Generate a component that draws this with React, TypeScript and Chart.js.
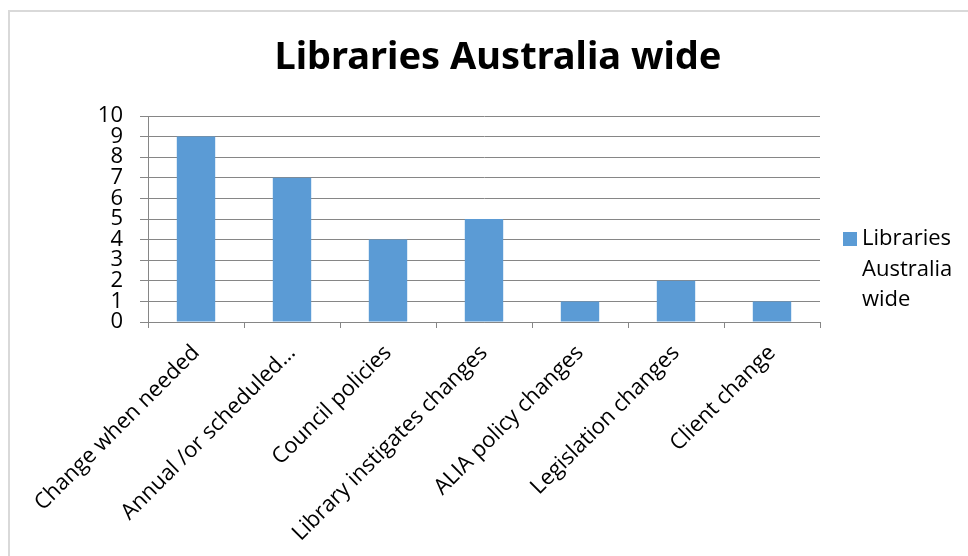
import React, { useEffect, useRef } from "react";
import { Chart, registerables } from "chart.js";

Chart.register(...registerables);

const chartTitle = "Libraries Australia wide";
const categories = [
  "Change when needed",
  "Annual /or scheduled…",
  "Council policies",
  "Library instigates changes",
  "ALIA policy changes",
  "Legislation changes",
  "Client change",
];
const values = [9, 7, 4, 5, 1, 2, 1];
const seriesName = "Libraries Australia wide";
const legendLines = ["Libraries", "Australia", "wide"];
const yMin = 0;
const yMax = 10;
const yStep = 1;

const BAR = "#5B9BD5";
const GRID = "#868686";
const FONT = "'Open Sans', 'Noto Sans', sans-serif";

const decorPlugin = {
  id: "decor",
  beforeDraw(chart: any) {
    const ctx = chart.ctx;
    ctx.save();
    ctx.fillStyle = "#ffffff";
    ctx.fillRect(0, 0, chart.width, chart.height);
    ctx.strokeStyle = "#d9d9d9";
    ctx.lineWidth = 2;
    ctx.beginPath();
    ctx.moveTo(9, chart.height);
    ctx.lineTo(9, 11);
    ctx.lineTo(chart.width, 11);
    ctx.stroke();
    ctx.restore();
  },
  afterDraw(chart: any) {
    const ctx = chart.ctx;
    ctx.save();
    ctx.fillStyle = "#000000";
    ctx.font = "bold 38px 'Noto Sans', sans-serif";
    ctx.textAlign = "center";
    ctx.textBaseline = "middle";
    ctx.fillText(chartTitle, 498, 58);
    // legend
    ctx.fillStyle = BAR;
    ctx.fillRect(843, 232, 14, 14);
    ctx.fillStyle = "#000000";
    ctx.font = `22px ${FONT}`;
    ctx.textAlign = "left";
    const ys = [239, 270, 300];
    legendLines.forEach((t, i) => ctx.fillText(t, 862, ys[i]));
    ctx.restore();
  },
};

export default function App() {
  const ref = useRef<HTMLCanvasElement | null>(null);
  useEffect(() => {
    if (!ref.current) return;
    const chart = new Chart(ref.current, {
      type: "bar",
      data: {
        labels: categories,
        datasets: [
          {
            label: seriesName,
            data: values,
            backgroundColor: BAR,
            borderWidth: 0,
            categoryPercentage: 0.8,
            barPercentage: 0.5,
          },
        ],
      },
      options: {
        animation: false,
        responsive: false,
        maintainAspectRatio: false,
        layout: { padding: { top: 116, right: 148, left: 0, bottom: 0 } },
        plugins: {
          legend: { display: false },
          title: { display: false },
          tooltip: { enabled: false },
        },
        scales: {
          x: {
            afterFit: (s: any) => {
              s.height = 234;
            },
            grid: {
              display: true,
              offset: true,
              drawOnChartArea: false,
              drawTicks: true,
              tickLength: 6,
              color: GRID,
            },
            border: { display: true, color: GRID, width: 1 },
            ticks: {
              color: "#000000",
              font: { family: FONT, size: 22 },
              minRotation: 45,
              maxRotation: 45,
              autoSkip: false,
              padding: 12,
            },
          },
          y: {
            min: yMin,
            max: yMax,
            afterFit: (s: any) => {
              s.width = 148;
            },
            grid: {
              color: GRID,
              drawTicks: true,
              tickLength: 8,
            },
            border: { display: true, color: GRID, width: 1 },
            ticks: {
              stepSize: yStep,
              autoSkip: false,
              color: "#000000",
              padding: 17,
              font: { family: FONT, size: 22, lineHeight: 1 },
            },
          },
        },
      },
      plugins: [decorPlugin],
    });
    return () => chart.destroy();
  }, []);
  return (
    <div style={{ position: "fixed", left: 0, top: 0, width: 968, height: 556 }}>
      <canvas ref={ref} width={968} height={556} style={{ width: 968, height: 556, display: "block" }} />
    </div>
  );
}
